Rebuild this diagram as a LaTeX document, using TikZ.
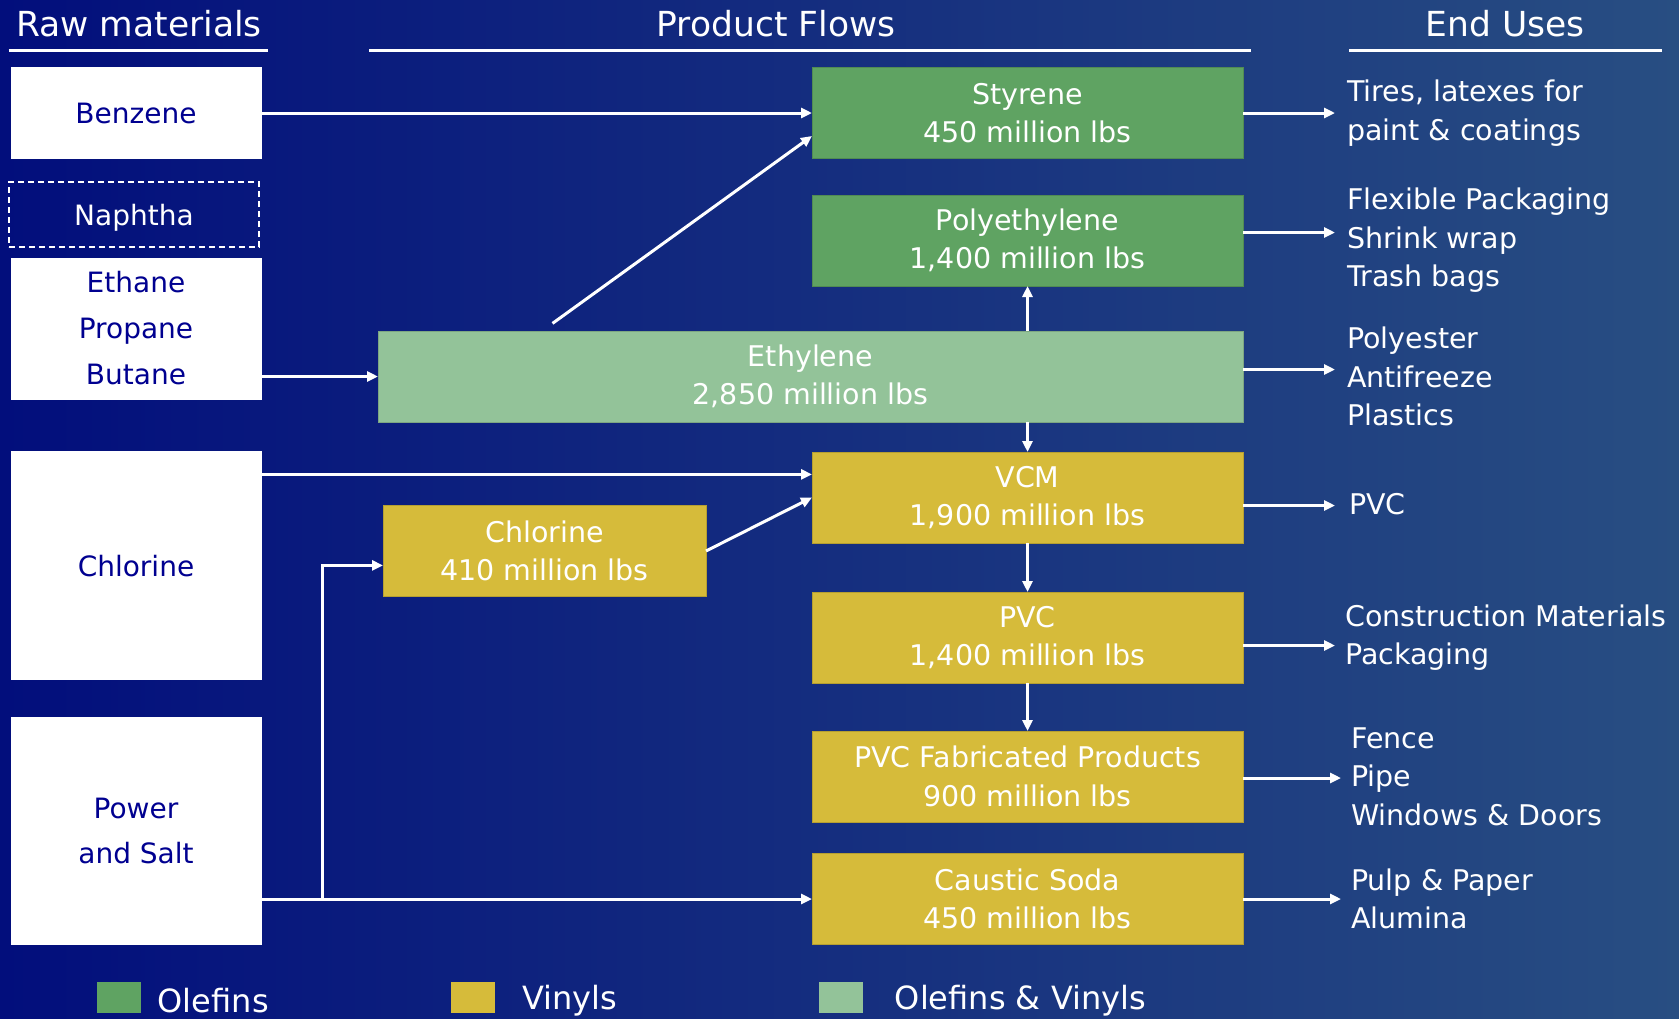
\documentclass[tikz,border=0pt]{standalone}
\usepackage{fontspec}
\setmainfont{DejaVu Sans}
\usetikzlibrary{positioning,arrows.meta,calc}
\definecolor{bgleft}{HTML}{020E7C}
\definecolor{bgmid}{HTML}{1A3182}
\definecolor{bgright}{HTML}{284E82}
\definecolor{olef}{HTML}{5FA362}
\definecolor{vinyl}{HTML}{D6BB3A}
\definecolor{olvin}{HTML}{93C399}
\definecolor{rawblue}{HTML}{000090}
\tikzstyle{rbox}=[rectangle, fill=white, draw=white, inner sep=0pt, outer sep=0pt, minimum width=250pt, text=rawblue, align=center, font=\fontsize{28}{46}\selectfont]
\tikzstyle{nbox}=[rbox, fill=none, line width=1.5pt, dash pattern=on 6pt off 4pt, text=white, text depth=0pt]
\tikzstyle{pbox}=[rectangle, inner sep=0pt, outer sep=0pt, minimum width=431pt, minimum height=91pt, text=white, align=center, line width=0.8pt, font=\fontsize{28.5}{38.5}\selectfont]
\tikzstyle{obox}=[pbox, fill=olef, draw=olef!85!black]
\tikzstyle{vbox}=[pbox, fill=vinyl, draw=vinyl!85!black]
\tikzstyle{ovbox}=[pbox, fill=olvin, draw=olvin!85!black]
\tikzstyle{eutxt}=[inner sep=0pt, text=white, align=left, font=\fontsize{28.5}{38.5}\selectfont]
\tikzstyle{hdr}=[inner sep=0pt, text=white, font=\fontsize{34.5}{40}\selectfont]
\tikzstyle{hline}=[-, white, line width=3pt]
\tikzstyle{pline}=[-{Triangle[length=11pt,width=10pt]}, white, line width=3pt]
\tikzstyle{lgd}=[rectangle, minimum width=44pt, minimum height=31pt, inner sep=0pt]
\tikzstyle{lgdtxt}=[inner sep=0pt, text=white, yshift=-3pt, font=\fontsize{32}{36}\selectfont]

\begin{document}
\begin{tikzpicture}[x=1pt,y=-1pt]
\shade[left color=bgleft, middle color=bgmid, right color=bgright] (0,0) rectangle (1679,1018);
\useasboundingbox (0,0) rectangle (1679,1018);
% headers
\node (RAW) [hdr] at (139,23.6) {Raw materials};
\node (PF) [hdr] at (776,23.6) {Product Flows};
\node (EU) [hdr] at (1505,23.6) {End Uses};
\draw[hline] (8.6,50.3) -- (267.7,50.3);
\draw[hline] (369.4,50.3) -- (1250.7,50.3);
\draw[hline] (1349,50.3) -- (1662,50.3);
% raw materials
\node (BEN) [rbox, minimum height=91pt] at (136,113) {Benzene};
\node (NAP) [nbox, minimum height=65pt, below=23.5pt of BEN, xshift=-2pt] {Naphtha};
\node (ETHR) [rbox, minimum height=141pt, below=11pt of NAP, xshift=2pt] {Ethane\\Propane\\Butane};
\node (CLR) [rbox, minimum height=228pt, below=52.6pt of ETHR] {Chlorine};
\node (PWR) [rbox, minimum height=227pt, below=37.4pt of CLR, font=\fontsize{28}{45}\selectfont] {Power\\and Salt};
% product flows
\node (STY) [obox] at (1027.5,113) {Styrene\\450 million lbs};
\node (PE) [obox, below=36.5pt of STY] {Polyethylene\\1,400 million lbs};
\node (ETH) [ovbox, minimum width=865pt, below=45pt of PE.south east, anchor=north east] {Ethylene\\2,850 million lbs};
\node (VCM) [vbox, below=30pt of ETH.south east, anchor=north east] {VCM\\1,900 million lbs};
\node (PVC) [vbox, below=49pt of VCM] {PVC\\1,400 million lbs};
\node (FAB) [vbox, below=48pt of PVC] {PVC Fabricated Products\\900 million lbs};
\node (CAU) [vbox, below=31.5pt of FAB] {Caustic Soda\\450 million lbs};
\node (CLP) [vbox, minimum width=323pt] at (544.5,551) {Chlorine\\410 million lbs};
% end uses
\node (TIRE) [eutxt, right=104pt of STY] {Tires, latexes for\\paint \& coatings};
\node (FLEX) [eutxt, right=104pt of PE] {Flexible Packaging\\Shrink wrap\\Trash bags};
\node (POLY) [eutxt, right=104pt of ETH] {Polyester\\Antifreeze\\Plastics};
\node (PVCU) [eutxt, right=106pt of VCM, yshift=-7pt] {PVC};
\node (CONS) [eutxt, right=102pt of PVC] {Construction Materials\\Packaging};
\node (FENCE) [eutxt, right=108pt of FAB] {Fence\\Pipe\\Windows \& Doors};
\node (PULP) [eutxt, right=108pt of CAU] {Pulp \& Paper\\Alumina};
% flows
\coordinate (ETHo) at ($(ETH.north west)+(174.5,-7.6)$);
\coordinate (VCMin) at ($(VCM.north west)+(0,22.4)$);
\coordinate (SPLIT) at ($(PWR.east |- CAU)+(61,0)$);
\draw[pline] (BEN) -- (STY);
\draw[pline] (ETHo) -- ($(STY.west)+(0,23)$);
\draw[pline] (ETHR.east |- ETH) -- (ETH.west);
\draw[pline] (PE.south |- ETH.north) -- (PE.south);
\draw[pline] (VCM.north |- ETH.south) -- (VCM.north);
\draw[pline] (CLR.east |- VCMin) -- (VCMin);
\draw[pline] (CLP.east) -- (VCM.west);
\draw[pline] (PWR.east |- CAU) -- (CAU.west);
\draw[pline] (SPLIT) |- ($(CLP.west)+(0,14.4)$);
\draw[pline] (VCM) -- (PVC);
\draw[pline] (PVC) -- (FAB);
\draw[pline, shorten >=12pt] (STY) -- (TIRE);
\draw[pline, shorten >=12pt] ($(PE.east)+(0,-8)$) -- ($(PE.east -| FLEX.west)+(0,-8)$);
\draw[pline, shorten >=12pt] ($(ETH.east)+(0,-7)$) -- ($(ETH.east -| POLY.west)+(0,-7)$);
\draw[pline, shorten >=14pt] ($(VCM.east)+(0,8)$) -- ($(VCM.east -| PVCU.west)+(0,8)$);
\draw[pline, shorten >=10pt] ($(PVC.east)+(0,8)$) -- ($(PVC.east -| CONS.west)+(0,8)$);
\draw[pline, shorten >=10pt] ($(FAB.east)+(0,1.5)$) -- ($(FAB.east -| FENCE.west)+(0,1.5)$);
\draw[pline, shorten >=10pt] (CAU) -- (PULP);
% legend
\node (LGO) [lgd, fill=olef] at (119.4,997.5) {};
\node (LGOt) [lgdtxt, right=16pt of LGO] {Olefins};
\node (LGV) [lgd, fill=vinyl] at (472.8,997.5) {};
\node (LGVt) [lgdtxt, right=27pt of LGV] {Vinyls};
\node (LGOV) [lgd, fill=olvin] at (840.5,997.5) {};
\node (LGOVt) [lgdtxt, right=32pt of LGOV] {Olefins \& Vinyls};
\end{tikzpicture}
\end{document}
